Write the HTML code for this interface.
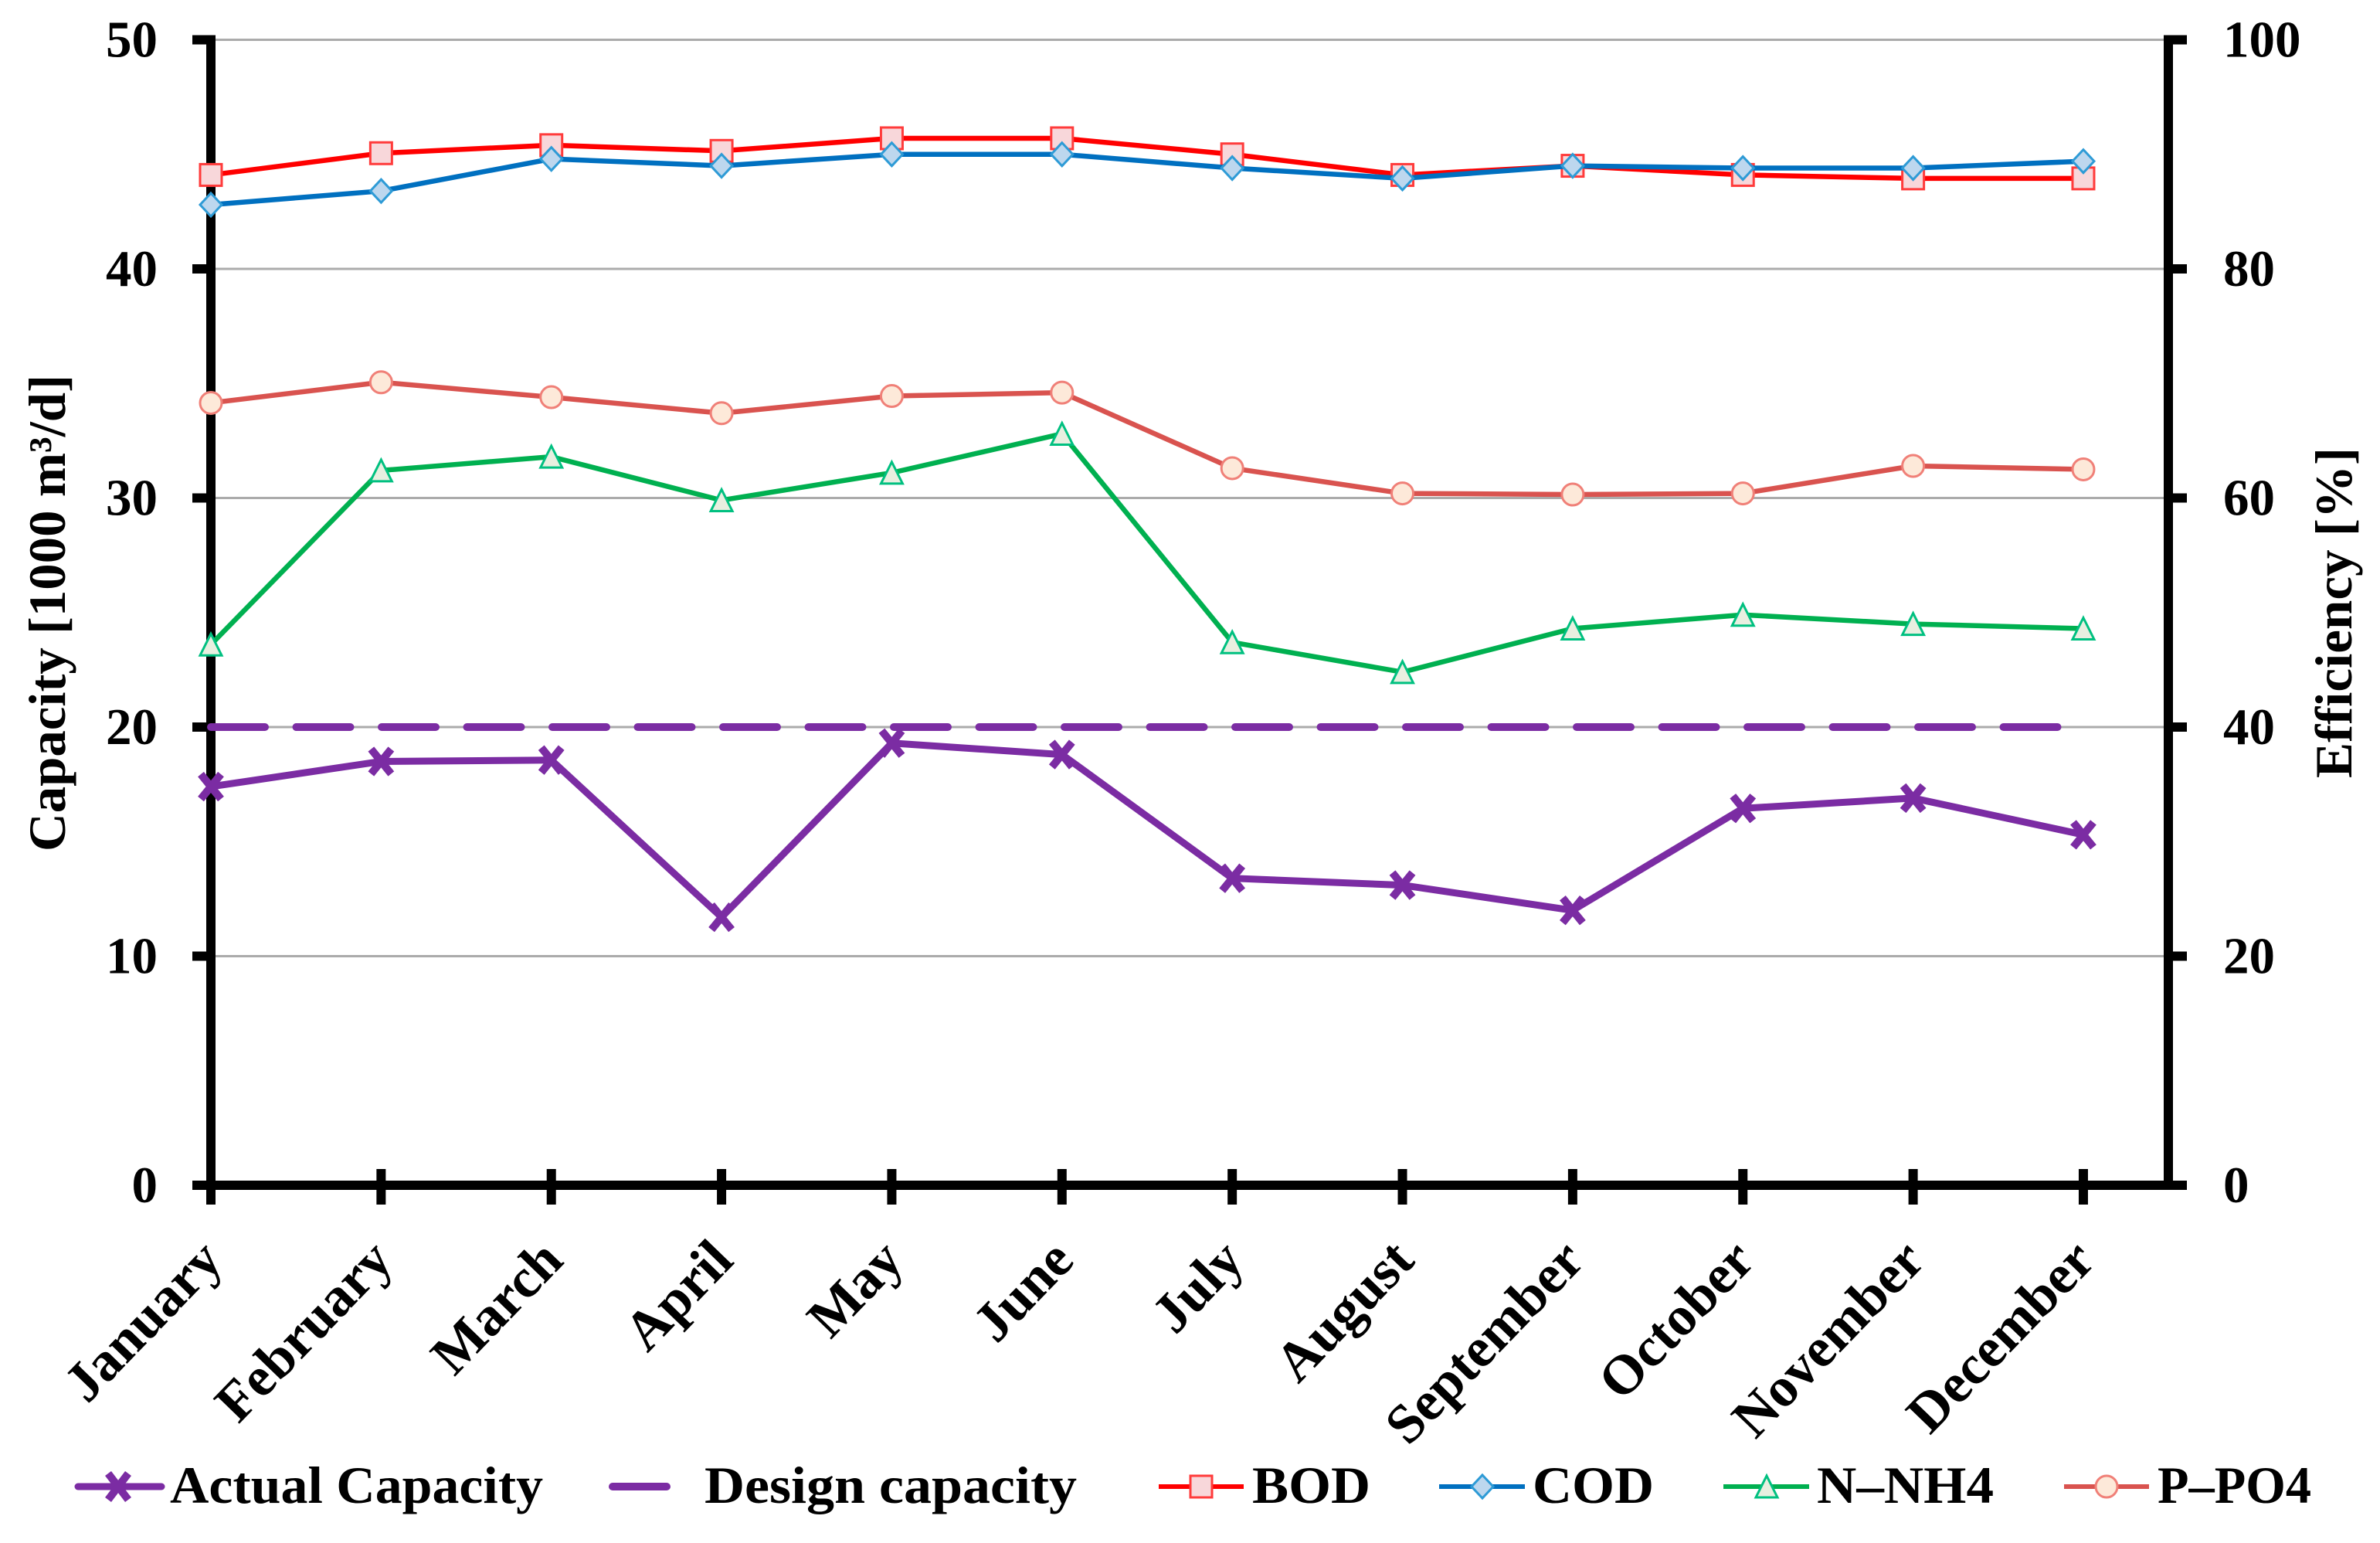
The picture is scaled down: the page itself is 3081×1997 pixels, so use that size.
<!DOCTYPE html>
<html lang="en">
<head>
<meta charset="utf-8">
<title>Capacity and Efficiency by Month</title>
<style>
html,body{margin:0;padding:0;background:#fff;}
svg{display:block;}
text{font-family:"Liberation Serif",serif;font-weight:bold;fill:#000;}
</style>
</head>
<body>
<svg id="chart" xmlns="http://www.w3.org/2000/svg" width="3081" height="1997" viewBox="0 0 3081 1997">
  <rect x="0" y="0" width="3081" height="1997" fill="#fff"/>
  <g id="grid"></g>
  <g id="axes"></g>
  <g id="series"></g>

  <text transform="translate(84 1102) rotate(-90)" font-size="68" textLength="617" lengthAdjust="spacingAndGlyphs">Capacity [1000 m³/d]</text>
  <text transform="translate(3044 1007) rotate(-90)" font-size="68" textLength="428" lengthAdjust="spacingAndGlyphs">Efficiency [%]</text>

  <g>
    <g>
      <line x1="101" y1="1924" x2="209" y2="1924" stroke="#7B2CA3" stroke-width="9" stroke-linecap="round"/>
      <path d="M140 1907L166 1941M166 1907L140 1941" stroke="#7B2CA3" stroke-width="10" fill="none"/>
      <text x="220" y="1945" font-size="68" textLength="483" lengthAdjust="spacingAndGlyphs">Actual Capacity</text>
    </g>
    <g>
      <line x1="793" y1="1924" x2="863" y2="1924" stroke="#7B2CA3" stroke-width="10" stroke-linecap="round"/>
      <text x="912" y="1945" font-size="68" textLength="482" lengthAdjust="spacingAndGlyphs">Design capacity</text>
    </g>
    <g>
      <line x1="1500" y1="1924" x2="1610" y2="1924" stroke="#FF0000" stroke-width="6"/>
      <rect x="1541" y="1910" width="28" height="28" fill="#F8D7DA" stroke="#FF3B3B" stroke-width="3"/>
      <text x="1621" y="1945" font-size="68" textLength="153" lengthAdjust="spacingAndGlyphs">BOD</text>
    </g>
    <g>
      <line x1="1863" y1="1924" x2="1974" y2="1924" stroke="#0070C0" stroke-width="6"/>
      <polygon points="1919,1909 1933,1924 1919,1939 1905,1924" fill="#BDD7EE" stroke="#2E9BD6" stroke-width="3"/>
      <text x="1984" y="1945" font-size="68" textLength="157" lengthAdjust="spacingAndGlyphs">COD</text>
    </g>
    <g>
      <line x1="2231" y1="1924" x2="2342" y2="1924" stroke="#00B050" stroke-width="6"/>
      <polygon points="2287,1910 2301,1938 2273,1938" fill="#E8EFE0" stroke="#00C080" stroke-width="3"/>
      <text x="2352" y="1945" font-size="68" textLength="229" lengthAdjust="spacingAndGlyphs">N–NH4</text>
    </g>
    <g>
      <line x1="2672" y1="1924" x2="2782" y2="1924" stroke="#D9534F" stroke-width="6"/>
      <circle cx="2727" cy="1924" r="14" fill="#FDE9D9" stroke="#F08078" stroke-width="3"/>
      <text x="2793" y="1945" font-size="68" textLength="199" lengthAdjust="spacingAndGlyphs">P–PO4</text>
    </g>
  </g>
</svg>
<script>
const months = ["January","February","March","April","May","June","July","August","September","October","November","December"];
const leftTicks = [0,10,20,30,40,50];
const rightTicks = [0,20,40,60,80,100];
const actualCapacity = [17.4,18.5,18.56,11.7,19.3,18.8,13.4,13.1,12.0,16.45,16.9,15.3];
const designCapacity = [20,20,20,20,20,20,20,20,20,20,20,20];
const bod = [88.2,90.1,90.8,90.3,91.4,91.4,90.0,88.2,89.0,88.2,87.9,87.9];
const cod = [85.6,86.8,89.6,89.0,90.0,90.0,88.8,87.9,89.0,88.8,88.8,89.4];
const nNh4 = [47.2,62.4,63.6,59.8,62.2,65.6,47.4,44.8,48.6,49.8,49.0,48.6];
const pPo4 = [68.3,70.1,68.8,67.4,68.9,69.2,62.6,60.4,60.3,60.4,62.8,62.5];

const NS = "http://www.w3.org/2000/svg";
const plotLeft = 273, plotRight = 2807, plotBottom = 1534, plotTop = 51.5, catStep = 220.36;
const xPos = i => plotLeft + i * catStep;
const yLeft = v => plotBottom - (v / 50) * (plotBottom - plotTop);
const yRight = v => plotBottom - (v / 100) * (plotBottom - plotTop);

function make(tag, attrs, parent) {
  const node = document.createElementNS(NS, tag);
  for (const k in attrs) node.setAttribute(k, attrs[k]);
  parent.appendChild(node);
  return node;
}
const gridG = document.getElementById("grid");
const axesG = document.getElementById("axes");
const seriesG = document.getElementById("series");

leftTicks.forEach(v => {
  if (v === 0) return;
  const el = make("line", {x1: plotLeft, x2: plotRight, y1: yLeft(v), y2: yLeft(v), stroke: "#ABABAB", "stroke-width": 3}, gridG);
  
  
});

const leftAxis = make("line", {x1: plotLeft, x2: plotLeft, y1: plotTop - 6, y2: plotBottom + 6, stroke: "#000", "stroke-width": 12}, axesG);


const rightAxis = make("line", {x1: plotRight, x2: plotRight, y1: plotTop - 6, y2: plotBottom + 6, stroke: "#000", "stroke-width": 12}, axesG);


const xAxis = make("line", {x1: plotLeft - 24, x2: plotRight + 24, y1: plotBottom, y2: plotBottom, stroke: "#000", "stroke-width": 12}, axesG);



leftTicks.forEach(v => {
  const t = make("line", {x1: plotLeft - 24, x2: plotLeft, y1: yLeft(v), y2: yLeft(v), stroke: "#000", "stroke-width": 12}, axesG);
  
  
  const l = make("text", {x: 204, y: yLeft(v) + 22, "text-anchor": "end", "font-size": 67}, axesG);
  l.textContent = v;
  
  
});
rightTicks.forEach(v => {
  const t = make("line", {x1: plotRight, x2: plotRight + 24, y1: yRight(v), y2: yRight(v), stroke: "#000", "stroke-width": 12}, axesG);
  
  
  const l = make("text", {x: 2878, y: yRight(v) + 22, "font-size": 67}, axesG);
  l.textContent = v;
  
  
});
months.forEach((m, i) => {
  const t = make("line", {x1: xPos(i), x2: xPos(i), y1: plotBottom - 21, y2: plotBottom + 25, stroke: "#000", "stroke-width": 12}, axesG);
  
  
  const ax = xPos(i) + 18, ay = 1634;
  const l = make("text", {x: 0, y: 0, "text-anchor": "end", "font-size": 72, transform: `translate(${ax} ${ay}) rotate(-46)`}, axesG);
  l.textContent = m;
  
  
});

function drawLine(values, yFn, color, width, dash, name) {
  const pts = values.map((v, i) => xPos(i) + "," + yFn(v)).join(" ");
  const attrs = {points: pts, fill: "none", stroke: color, "stroke-width": width, "stroke-linejoin": "round"};
  if (dash) { attrs["stroke-dasharray"] = dash; attrs["stroke-linecap"] = "round"; }
  const el = make("polyline", attrs, seriesG);
  
  
}
function drawMarker(kind, cx, cy, name) {
  let el;
  if (kind === "x") {
    const a = 13, b = 16;
    el = make("path", {d: `M${cx-a} ${cy-b}L${cx+a} ${cy+b}M${cx+a} ${cy-b}L${cx-a} ${cy+b}`, fill: "none", stroke: "#7B2CA3", "stroke-width": 10}, seriesG);
  } else if (kind === "square") {
    el = make("rect", {x: cx-14, y: cy-14, width: 28, height: 28, fill: "#F8D7DA", stroke: "#FF3B3B", "stroke-width": 3}, seriesG);
  } else if (kind === "diamond") {
    el = make("polygon", {points: `${cx},${cy-15} ${cx+14},${cy} ${cx},${cy+15} ${cx-14},${cy}`, fill: "#BDD7EE", stroke: "#2E9BD6", "stroke-width": 3}, seriesG);
  } else if (kind === "triangle") {
    el = make("polygon", {points: `${cx},${cy-14} ${cx+14},${cy+14} ${cx-14},${cy+14}`, fill: "#E8EFE0", stroke: "#00C080", "stroke-width": 3}, seriesG);
  } else {
    el = make("circle", {cx: cx, cy: cy, r: 14, fill: "#FDE9D9", stroke: "#F08078", "stroke-width": 3}, seriesG);
  }
  
  
}

drawLine(actualCapacity, yLeft, "#7B2CA3", 9, null, "actual-capacity-line");
actualCapacity.forEach((v, i) => drawMarker("x", xPos(i), yLeft(v), "actual-capacity-point"));
drawLine(designCapacity, yLeft, "#7B2CA3", 10, "70 40.5", "design-capacity-line");
drawLine(bod, yRight, "#FF0000", 6.5, null, "bod-line");
bod.forEach((v, i) => drawMarker("square", xPos(i), yRight(v), "bod-point"));
drawLine(cod, yRight, "#0070C0", 6.5, null, "cod-line");
cod.forEach((v, i) => drawMarker("diamond", xPos(i), yRight(v), "cod-point"));
drawLine(nNh4, yRight, "#00B050", 6.5, null, "n-nh4-line");
nNh4.forEach((v, i) => drawMarker("triangle", xPos(i), yRight(v), "n-nh4-point"));
drawLine(pPo4, yRight, "#D9534F", 6.5, null, "p-po4-line");
pPo4.forEach((v, i) => drawMarker("circle", xPos(i), yRight(v), "p-po4-point"));
</script>
</body>
</html>
